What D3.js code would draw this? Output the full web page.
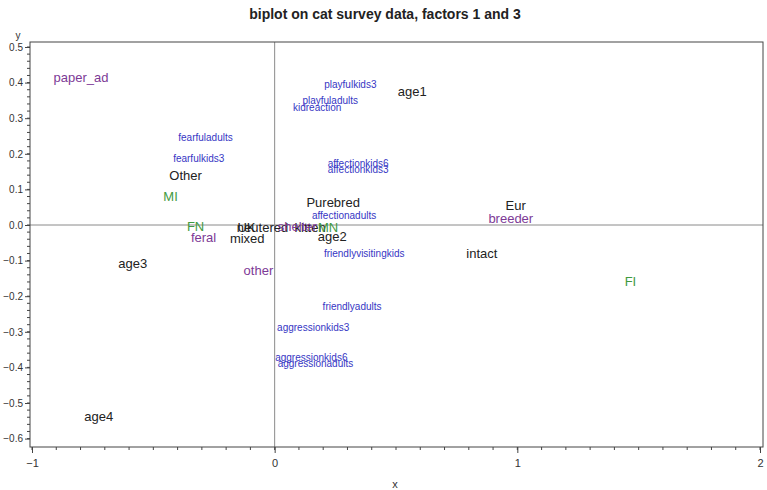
<!DOCTYPE html>
<html><head><meta charset="utf-8">
<script src="https://cdn.jsdelivr.net/npm/d3@7"></script>
<style>body{margin:0;background:#fff;} svg{display:block;font-family:Arial,"Liberation Sans",sans-serif;}</style>
</head><body>
<svg id="c" width="767" height="490"></svg>
<script>
// label groups
const catLabels = ["age1","Other","Purebred","Eur","UK","neutered","kitten","mixed","age2","intact","age3","age4"];
const catX = [0.567,-0.367,0.241,0.993,-0.116,-0.05,0.146,-0.113,0.237,0.854,-0.585,-0.725];
const catY = [0.376,0.140,0.062,0.056,-0.008,-0.008,-0.008,-0.037,-0.031,-0.081,-0.107,-0.539];

const srcLabels = ["paper_ad","breeder","feral","shelter","other"];
const srcX = [-0.798,0.973,-0.293,0.093,-0.067];
const srcY = [0.413,0.017,-0.034,-0.003,-0.129];

const sexLabels = ["MI","FN","MN","FI"];
const sexX = [-0.429,-0.326,0.22,1.466];
const sexY = [0.081,-0.003,-0.008,-0.160];

const varLabels = ["playfulkids3","playfuladults","kidreaction","fearfuladults","fearfulkids3","affectionkids6","affectionkids3","affectionadults","friendlyvisitingkids","friendlyadults","aggressionkids3","aggressionkids6","aggressionadults"];
const varX = [0.312,0.229,0.175,-0.285,-0.313,0.344,0.344,0.286,0.369,0.319,0.159,0.151,0.168];
const varY = [0.396,0.351,0.331,0.247,0.188,0.174,0.157,0.028,-0.081,-0.230,-0.289,-0.371,-0.390];

const xTicks = [-1,0,1,2];
const yTicks = [0.5,0.4,0.3,0.2,0.1,0.0,-0.1,-0.2,-0.3,-0.4,-0.5,-0.6];

const svg = d3.select("#c");
const L=30,R=763,T=42,B=447;
const x = d3.scaleLinear().domain([-1,2]).range([32,760]);
const y = d3.scaleLinear().domain([0.5,-0.6]).range([47,438.6]);

svg.append("text").attr("x",385).attr("y",19).attr("text-anchor","middle")
  .attr("font-size",14).attr("font-weight","bold").attr("fill","#222")
  .text("biplot on cat survey data, factors 1 and 3");

// zero lines
svg.append("line").attr("x1",L).attr("x2",R).attr("y1",y(0)).attr("y2",y(0)).attr("stroke","#8a8a8a");
svg.append("line").attr("x1",x(0)).attr("x2",x(0)).attr("y1",T).attr("y2",B).attr("stroke","#8a8a8a");

// frame
svg.append("rect").attr("x",L).attr("y",T).attr("width",R-L).attr("height",B-T)
  .attr("fill","none").attr("stroke","#444").attr("stroke-width",1);

// x axis
const xMinor = d3.range(-10,21).map(i=>i/10);
svg.append("g").selectAll("line").data(xMinor).join("line")
  .attr("x1",d=>x(d)).attr("x2",d=>x(d)).attr("y1",B).attr("y2",B+3).attr("stroke","#444");
const gx = svg.append("g").attr("transform",`translate(0,${B})`)
  .call(d3.axisBottom(x).tickValues(xTicks).tickFormat(d3.format("d")).tickSize(6).tickPadding(6));
gx.select(".domain").remove();
gx.selectAll("line").attr("stroke","#444");
gx.selectAll("text").attr("font-size",11).attr("fill","#333").attr("font-family","Arial,'Liberation Sans',sans-serif");
svg.append("text").attr("x",395).attr("y",488).attr("text-anchor","middle").attr("font-size",11).attr("fill","#333").text("x");

// y axis
const yMinor = d3.range(-30,26).map(i=>i/50);
svg.append("g").selectAll("line").data(yMinor).join("line")
  .attr("x1",L-3).attr("x2",L).attr("y1",d=>y(d)).attr("y2",d=>y(d)).attr("stroke","#444");
const gy = svg.append("g").attr("transform",`translate(${L},0)`)
  .call(d3.axisLeft(y).tickValues(yTicks).tickFormat(d3.format(".1f")).tickSize(5).tickPadding(2));
gy.select(".domain").remove();
gy.selectAll("line").attr("stroke","#444");
gy.selectAll("text").attr("font-size",10).attr("fill","#333").attr("font-family","Arial,'Liberation Sans',sans-serif");
svg.append("text").attr("x",18).attr("y",39).attr("text-anchor","middle").attr("font-size",10).attr("fill","#333").text("y");

function drawLabels(labels,xs,ys,color,size){
  svg.append("g").selectAll("text").data(labels).join("text")
    .attr("x",(d,i)=>x(xs[i])).attr("y",(d,i)=>y(ys[i]))
    .attr("text-anchor","middle").attr("dominant-baseline","central")
    .attr("font-size",size).attr("fill",color).text(d=>d);
}
drawLabels(catLabels,catX,catY,"#222",13);
drawLabels(srcLabels,srcX,srcY,"#7d3a96",13);
drawLabels(sexLabels,sexX,sexY,"#3f9a3f",13);
drawLabels(varLabels,varX,varY,"#3636c4",10);
</script>
</body></html>
